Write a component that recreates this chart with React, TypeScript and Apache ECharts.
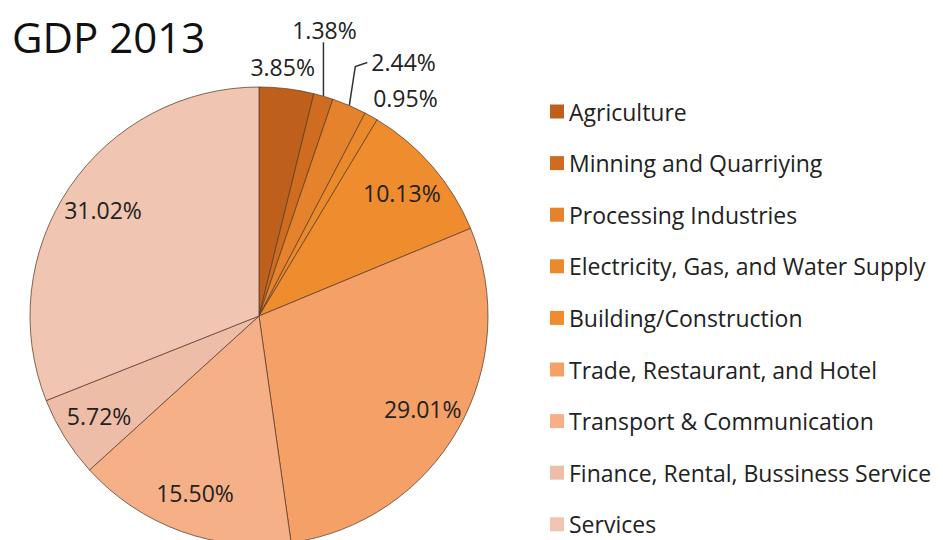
import React, { useEffect, useRef } from "react";
import * as echarts from "echarts";

const categories = [
  "Agriculture",
  "Minning and Quarriying",
  "Processing Industries",
  "Electricity, Gas, and Water Supply",
  "Building/Construction",
  "Trade, Restaurant, and Hotel",
  "Transport & Communication",
  "Finance, Rental, Bussiness Service",
  "Services",
];
const values = [3.85, 1.38, 2.44, 0.95, 10.13, 29.01, 15.5, 5.72, 31.02];
const colors = [
  "#BF5F1C",
  "#D06C1F",
  "#E4832B",
  "#EA8A2B",
  "#EE8C2E",
  "#F5A066",
  "#F6B088",
  "#EEBDA8",
  "#F0C5B1",
];
const title = "GDP 2013";

const CX = 259;
const CY = 316;
const R = 229;
const FONT = "'Open Sans', sans-serif";

function edgePoint(i: number): [number, number] {
  const total = values.reduce((a, b) => a + b, 0);
  let before = 0;
  for (let k = 0; k < i; k++) before += values[k];
  const a = ((before + values[i] / 2) / total) * Math.PI * 2;
  return [CX + R * Math.sin(a), CY - R * Math.cos(a)];
}

export default function App() {
  const ref = useRef<HTMLDivElement>(null);
  useEffect(() => {
    if (!ref.current) return;
    const chart = echarts.init(ref.current, undefined, { renderer: "svg" });
    const fmt = (p: any) => p.value.toFixed(2) + "%";
    const mainData = categories.map((name, i) => ({
      name,
      value: values[i],
      itemStyle: { color: colors[i] },
      label: { show: i < 4 },
      labelLine: { show: i === 1 || i === 2 },
    }));
    const overlayData = categories.map((name, i) => ({
      name,
      value: values[i],
      label: { show: i >= 4 },
    }));
    chart.setOption({
      animation: false,
      backgroundColor: "#ffffff",
      title: {
        text: title,
        left: 7,
        top: 10,
        textStyle: { fontFamily: FONT, fontSize: 42, fontWeight: "normal", color: "#111111" },
      },
      legend: {
        orient: "vertical",
        left: 550,
        top: 100,
        padding: 0,
        icon: "rect",
        itemWidth: 14,
        itemHeight: 14,
        itemGap: 28.6,
        itemStyle: { borderWidth: 0 },
        data: categories,
        textStyle: { fontFamily: FONT, fontSize: 23, color: "#222222" },
      },
      series: [
        {
          type: "pie",
          center: [CX, CY],
          radius: [0, R],
          startAngle: 90,
          clockwise: true,
          data: mainData,
          itemStyle: { borderColor: "rgba(90,60,40,0.75)", borderWidth: 1 },
          label: {
            position: "outside",
            formatter: fmt,
            fontFamily: FONT,
            fontSize: 23,
            color: "#222222",
          },
          labelLine: { lineStyle: { color: "#333333", width: 1.5 } },
          labelLayout: (params: any) => {
            const i = params.dataIndex;
            const [ex, ey] = edgePoint(i);
            if (i === 0) return { x: ex - 4, y: ey - 22, align: "center", verticalAlign: "middle" };
            if (i === 1)
              return {
                x: ex + 1,
                y: ey - 66,
                align: "center",
                verticalAlign: "middle",
                labelLinePoints: [
                  [ex, ey],
                  [ex, ey - 54],
                  [ex, ey - 54],
                ],
              };
            if (i === 2)
              return {
                x: ex + 22,
                y: ey - 44,
                align: "left",
                verticalAlign: "middle",
                labelLinePoints: [
                  [ex, ey],
                  [ex + 6, ey - 39],
                  [ex + 18, ey - 43],
                ],
              };
            if (i === 3) return { x: ex + 2, y: ey - 18, align: "left", verticalAlign: "middle" };
            return {};
          },
          emphasis: { disabled: true },
        },
        {
          type: "pie",
          center: [CX, CY],
          radius: [142, R],
          startAngle: 90,
          clockwise: true,
          silent: true,
          data: overlayData,
          itemStyle: { color: "rgba(0,0,0,0)", borderWidth: 0 },
          label: {
            position: "inside",
            formatter: fmt,
            fontFamily: FONT,
            fontSize: 23,
            color: "#222222",
          },
          labelLine: { show: false },
          emphasis: { disabled: true },
        },
      ],
    });
    return () => chart.dispose();
  }, []);
  return (
    <div
      ref={ref}
      style={{ position: "fixed", left: 0, top: 0, width: 943, height: 540 }}
    />
  );
}
